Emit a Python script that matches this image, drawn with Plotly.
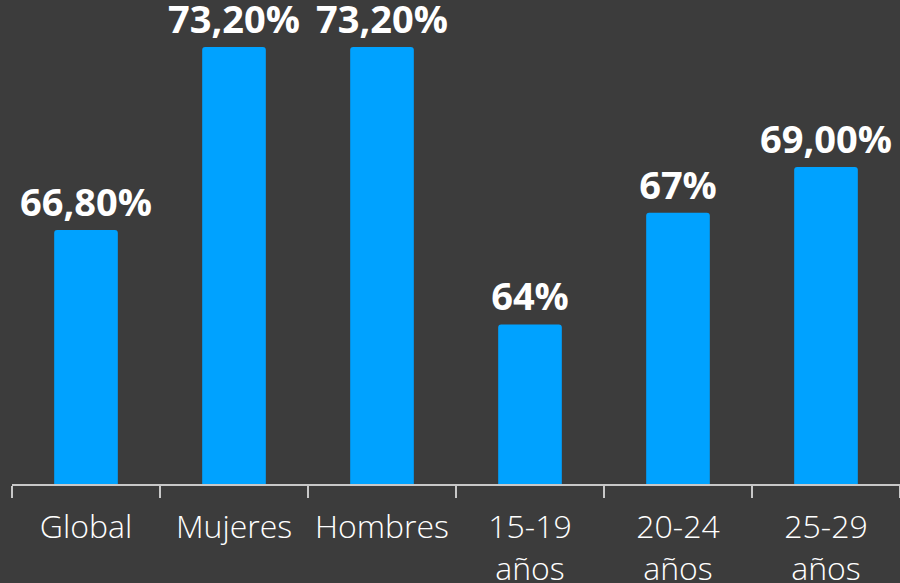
import plotly.graph_objects as go

categories = ["Global", "Mujeres", "Hombres", "15-19<br>años", "20-24<br>años", "25-29<br>años"]
values = [66.8, 73.2, 73.2, 63.5, 67.4, 69.0]
labels = ["66,80%", "73,20%", "73,20%", "64%", "67%", "69,00%"]

fig = go.Figure(go.Bar(
    x=categories, y=values, text=labels,
    textposition="outside", cliponaxis=False, constraintext="none",
    marker=dict(color="#00a2ff", line=dict(width=0)),
    textfont=dict(family="Open Sans", size=38, color="white", weight="bold"),
))
fig.update_layout(
    width=900, height=583,
    paper_bgcolor="#3c3c3c", plot_bgcolor="#3c3c3c",
    margin=dict(l=12, r=0, t=0, b=99),
    bargap=0.57, barcornerradius=3,
    showlegend=False,
)
fig.update_xaxes(
    showline=True, linecolor="#c8c8c8", linewidth=2,
    ticks="outside", tickson="boundaries", ticklen=12, tickcolor="#c8c8c8", tickwidth=2,
    tickfont=dict(family="Open Sans", size=32, color="white", weight=300),
    tickangle=0, automargin=False, ticklabelstandoff=14,
    showgrid=False,
)
fig.update_yaxes(range=[57.92, 74.84], visible=False, showgrid=False, zeroline=False, automargin=False)
fig.write_html("out.html", config={"displayModeBar": False},
               post_script="document.body.style.margin='0';")
